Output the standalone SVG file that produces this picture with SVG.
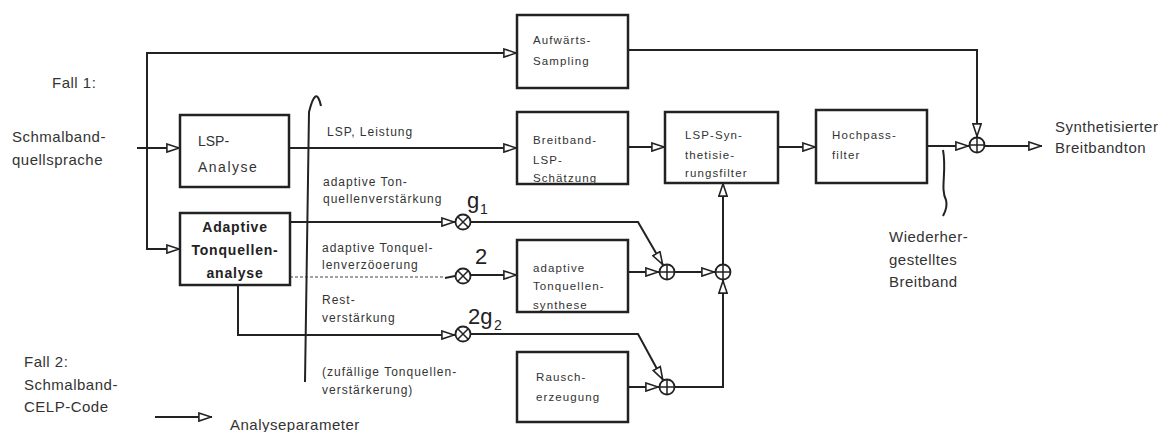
<svg xmlns="http://www.w3.org/2000/svg" width="1168" height="432" viewBox="0 0 1168 432">
<style>
.box{fill:#fff;stroke:#222;stroke-width:2.5}
.ln{fill:none;stroke:#222;stroke-width:2}
.thin{fill:none;stroke:#444;stroke-width:1.2;stroke-dasharray:3 2}
.op{fill:#fff;stroke:#222;stroke-width:1.8}
.lbl{font-family:"Liberation Sans",Arial,sans-serif;font-size:15px;fill:#333;letter-spacing:0.5px}
.bt{font-family:"Liberation Sans",Arial,sans-serif;font-size:11.5px;fill:#333;letter-spacing:1.1px}
.sm{font-family:"Liberation Sans",Arial,sans-serif;font-size:12px;fill:#333;letter-spacing:1px}
.bb{font-family:"Liberation Sans",Arial,sans-serif;font-size:14px;font-weight:bold;fill:#222;letter-spacing:0.8px}
.lb{font-family:"Liberation Sans",Arial,sans-serif;font-size:14px;fill:#333;letter-spacing:1px}
.g{font-family:"Liberation Sans",Arial,sans-serif;font-size:22px;fill:#222}
.gs{font-family:"Liberation Sans",Arial,sans-serif;font-size:14px;fill:#222}
</style>
<defs>
<marker id="ah" viewBox="0 0 14 10" refX="14" refY="5" markerWidth="14" markerHeight="10" markerUnits="userSpaceOnUse" orient="auto">
<path d="M0.9,0.9 L13.2,5 L0.9,9.1 Z" fill="#fff" stroke="#222" stroke-width="1.6"/>
</marker>
</defs>

<g id="connectors">
<path class="ln" d="M137,148 H180" marker-end="url(#ah)"/>
<path class="ln" d="M147,148 V53 H517" marker-end="url(#ah)"/>
<path class="ln" d="M147,148 V249 H180" marker-end="url(#ah)"/>
<path class="ln" d="M628,50 H977 V137" marker-end="url(#ah)"/>
<path class="ln" d="M289,148 H517" marker-end="url(#ah)"/>
<path class="ln" d="M628,147 H665" marker-end="url(#ah)"/>
<path class="ln" d="M778,147 H816" marker-end="url(#ah)"/>
<path class="ln" d="M927,146 H969" marker-end="url(#ah)"/>
<path class="ln" d="M985,146 H1042" marker-end="url(#ah)"/>
<path class="ln" d="M290,222 H455" marker-end="url(#ah)"/>
<path class="ln" d="M471,222 H638 L663,265" marker-end="url(#ah)"/>
<path class="thin" d="M290,277 H445"/>
<path class="ln" d="M445,278 L455,276"/>
<path class="ln" d="M471,275 H517" marker-end="url(#ah)"/>
<path class="ln" d="M628,272 H659" marker-end="url(#ah)"/>
<path class="ln" d="M675,272 H715" marker-end="url(#ah)"/>
<path class="ln" d="M723,264 V183" marker-end="url(#ah)"/>
<path class="ln" d="M238,285 V335 H455" marker-end="url(#ah)"/>
<path class="ln" d="M471,334 H638 L663,380" marker-end="url(#ah)"/>
<path class="ln" d="M628,387 H659" marker-end="url(#ah)"/>
<path class="ln" d="M675,387 H723 V280" marker-end="url(#ah)"/>
<path class="ln" d="M321,106 Q316,84 309,112 L305,382"/>
<path class="ln" d="M943,150 C947,172 940,188 946,200 C948,207 945,212 943,216"/>
<path class="ln" d="M155,417 H212" marker-end="url(#ah)"/>
</g>

<g id="lsp-analyse">
<rect class="box" x="180" y="115" width="109" height="72"/>
<text class="lb" x="198" y="146" style="letter-spacing:0">LSP-</text>
<text class="lb" x="198" y="172" style="letter-spacing:1.5px">Analyse</text>
</g>
<g id="adaptive-analyse">
<rect class="box" x="180" y="213" width="110" height="72"/>
<text class="bb" x="235" y="232" text-anchor="middle">Adaptive</text>
<text class="bb" x="235" y="255" text-anchor="middle">Tonquellen-</text>
<text class="bb" x="235" y="278" text-anchor="middle">analyse</text>
</g>
<g id="aufwaerts">
<rect class="box" x="517" y="15" width="111" height="73"/>
<text class="bt" x="533" y="44">Aufwärts-</text>
<text class="bt" x="533" y="65">Sampling</text>
</g>
<g id="breitband-lsp">
<rect class="box" x="517" y="112" width="111" height="72"/>
<text class="bt" x="533" y="144">Breitband-</text>
<text class="bt" x="533" y="164">LSP-</text>
<text class="bt" x="533" y="182">Schätzung</text>
</g>
<g id="lsp-synthese">
<rect class="box" x="665" y="112" width="113" height="71"/>
<text class="bt" x="685" y="139">LSP-Syn-</text>
<text class="bt" x="685" y="159">thetisie-</text>
<text class="bt" x="685" y="177">rungsfilter</text>
</g>
<g id="hochpass">
<rect class="box" x="816" y="110" width="111" height="73"/>
<text class="bt" x="832" y="139">Hochpass-</text>
<text class="bt" x="832" y="159">filter</text>
</g>
<g id="tonquellensynthese">
<rect class="box" x="517" y="240" width="111" height="72"/>
<text class="bt" x="533" y="272">adaptive</text>
<text class="bt" x="533" y="290">Tonquellen-</text>
<text class="bt" x="533" y="309">synthese</text>
</g>
<g id="rauscherzeugung">
<rect class="box" x="517" y="352" width="111" height="70"/>
<text class="bt" x="536" y="381">Rausch-</text>
<text class="bt" x="536" y="401">erzeugung</text>
</g>

<g id="mult-g1">
<circle class="op" cx="463" cy="222" r="7.5"/>
<path class="ln" style="stroke-width:1.5" d="M458,217 L468,227 M468,217 L458,227"/>
<text class="g" x="467" y="208">g</text><text class="gs" x="480" y="214">1</text>
</g>
<g id="mult-2">
<circle class="op" cx="463" cy="276" r="7.5"/>
<path class="ln" style="stroke-width:1.5" d="M458,271 L468,281 M468,271 L458,281"/>
<text class="g" x="475" y="264">2</text>
</g>
<g id="mult-2g2">
<circle class="op" cx="463" cy="334" r="7.5"/>
<path class="ln" style="stroke-width:1.5" d="M458,329 L468,339 M468,329 L458,339"/>
<text class="g" x="468" y="324">2g</text><text class="gs" x="494" y="330">2</text>
</g>
<g id="sum-a">
<circle class="op" cx="667" cy="272" r="7.5"/>
<path class="ln" style="stroke-width:1.5" d="M660,272 H674 M667,265 V279"/>
</g>
<g id="sum-b">
<circle class="op" cx="723" cy="272" r="7.5"/>
<path class="ln" style="stroke-width:1.5" d="M716,272 H730 M723,265 V279"/>
</g>
<g id="sum-c">
<circle class="op" cx="667" cy="387" r="7.5"/>
<path class="ln" style="stroke-width:1.5" d="M660,387 H674 M667,380 V394"/>
</g>
<g id="sum-d">
<circle class="op" cx="977" cy="145" r="7.5"/>
<path class="ln" style="stroke-width:1.5" d="M970,145 H984 M977,138 V152"/>
</g>

<g id="labels">
<text class="lbl" x="52" y="88">Fall 1:</text>
<text class="lbl" x="12" y="142">Schmalband-</text>
<text class="lbl" x="12" y="165">quellsprache</text>
<text class="lbl" x="24" y="367">Fall 2:</text>
<text class="lbl" x="24" y="390">Schmalband-</text>
<text class="lbl" x="24" y="412">CELP-Code</text>
<text class="lbl" x="230" y="430">Analyseparameter</text>
<text class="lbl" x="1055" y="132">Synthetisierter</text>
<text class="lbl" x="1055" y="153">Breitbandton</text>
<text class="lbl" x="889" y="242">Wiederher-</text>
<text class="lbl" x="889" y="265">gestelltes</text>
<text class="lbl" x="889" y="287">Breitband</text>
<text class="sm" x="327" y="136">LSP, Leistung</text>
<text class="sm" x="323" y="186">adaptive Ton-</text>
<text class="sm" x="323" y="203">quellenverstärkung</text>
<text class="sm" x="322" y="252">adaptive Tonquel-</text>
<text class="sm" x="322" y="269">lenverzöoerung</text>
<text class="sm" x="322" y="304">Rest-</text>
<text class="sm" x="322" y="322">verstärkung</text>
<text class="sm" x="322" y="376">(zufällige Tonquellen-</text>
<text class="sm" x="322" y="394">verstärkerung)</text>
</g>
</svg>
